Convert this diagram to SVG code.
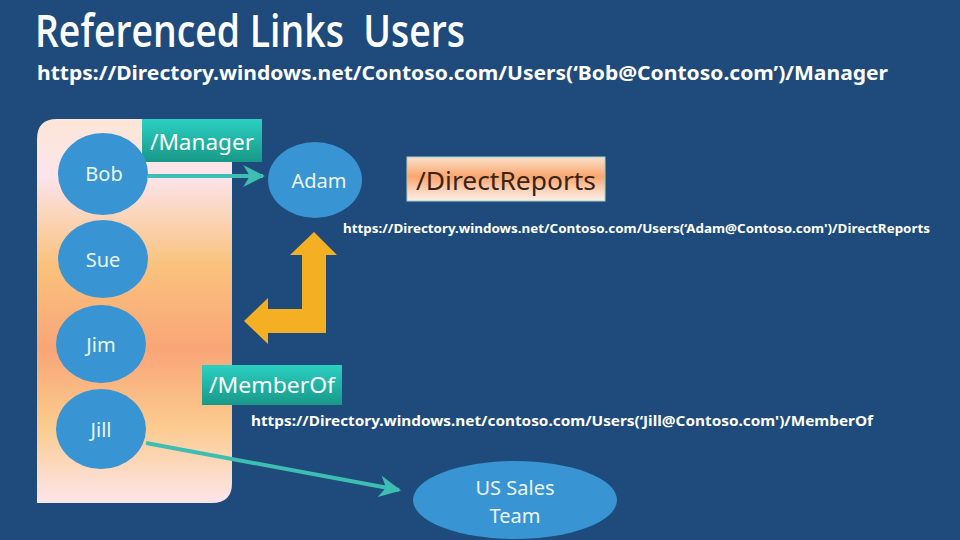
<svg xmlns="http://www.w3.org/2000/svg" width="960" height="540" viewBox="0 0 960 540">
<defs>
<linearGradient id="panelGrad" x1="0" y1="0" x2="0" y2="1">
<stop offset="0" stop-color="#FDE6D6"/>
<stop offset="0.15" stop-color="#FCE4EC"/>
<stop offset="0.38" stop-color="#FAC27C"/>
<stop offset="0.6" stop-color="#F9A577"/>
<stop offset="0.8" stop-color="#FBCB8E"/>
<stop offset="1" stop-color="#FDE5EA"/>
</linearGradient>
<linearGradient id="tealGrad" x1="0" y1="0" x2="0" y2="1">
<stop offset="0" stop-color="#2BD0C2"/>
<stop offset="1" stop-color="#189888"/>
</linearGradient>
<linearGradient id="peachGrad" x1="0" y1="0" x2="0" y2="1">
<stop offset="0" stop-color="#FCE0CC"/>
<stop offset="0.45" stop-color="#F9A66C"/>
<stop offset="0.8" stop-color="#FCD9C4"/>
<stop offset="1" stop-color="#FDEDE6"/>
</linearGradient>
<marker id="arrow" viewBox="0 0 10 10" refX="9" refY="5" markerWidth="5.5" markerHeight="5.5" orient="auto" markerUnits="strokeWidth">
<path d="M0,0 L10,5 L0,10 L3,5 Z" fill="#3CBEB2"/>
</marker>
</defs>
<style>
.node{fill:#3894D2;}
.nlabel{font-family:"Noto Sans","Open Sans",sans-serif;font-size:20px;fill:#EAF6F8;text-anchor:middle;}
.url{font-family:"Noto Sans","Open Sans",sans-serif;font-weight:bold;fill:#FFFFFF;}
.tag{font-family:"Noto Sans","Open Sans",sans-serif;fill:#FFFFFF;}
.conn{stroke:#3CBEB2;stroke-width:4;fill:none;}
</style>
<rect width="960" height="540" fill="#1E4B7B"/>
<text x="35" y="47" font-family="'Open Sans','Noto Sans',sans-serif" font-weight="600" font-size="45" fill="#FFFFFF" textLength="430" lengthAdjust="spacingAndGlyphs" xml:space="preserve">Referenced Links  Users</text>
<text class="url" x="37" y="80" font-size="19" textLength="851" lengthAdjust="spacingAndGlyphs">https://Directory.windows.net/Contoso.com/Users(‘Bob@Contoso.com’)/Manager</text>
<g id="panel">
<path d="M57,119 L232,119 L232,483 Q232,503 212,503 L37,503 L37,139 Q37,119 57,119 Z" fill="url(#panelGrad)"/>
</g>
<g id="connectors">
<line class="conn" x1="148" y1="176" x2="263" y2="176" marker-end="url(#arrow)"/>
<line class="conn" x1="146" y1="443" x2="399" y2="490" marker-end="url(#arrow)"/>
<polygon id="orange-arrow" points="314,232 337,255 326,255 326,333 268,333 268,344 244,321 268,298 268,309 302,309 302,255 290,255" fill="#F5AF23"/>
</g>
<g id="manager-tag">
<rect x="142" y="119" width="120" height="43" fill="url(#tealGrad)"/>
<text class="tag" x="150" y="150" font-size="22" textLength="104" lengthAdjust="spacingAndGlyphs">/Manager</text>
</g>
<g id="bob"><ellipse class="node" cx="103" cy="174" rx="45" ry="41"/><text class="nlabel" x="104" y="181">Bob</text></g>
<g id="sue"><ellipse class="node" cx="103" cy="259" rx="45" ry="39"/><text class="nlabel" x="103" y="267">Sue</text></g>
<g id="jim"><ellipse class="node" cx="101" cy="344" rx="45" ry="39"/><text class="nlabel" x="101" y="352">Jim</text></g>
<g id="jill"><ellipse class="node" cx="101" cy="429" rx="45" ry="40"/><text class="nlabel" x="101" y="437">Jill</text></g>
<g id="adam"><ellipse class="node" cx="315" cy="180" rx="47" ry="38"/><text class="nlabel" x="319" y="188">Adam</text></g>
<g id="directreports-tag">
<rect x="407" y="157" width="198" height="44" fill="url(#peachGrad)" stroke="#9ED3CC" stroke-width="1"/>
<text x="416" y="190" font-family="'Noto Sans','Open Sans',sans-serif" font-size="25" fill="#3A2416" textLength="180" lengthAdjust="spacingAndGlyphs">/DirectReports</text>
</g>
<text class="url" x="343" y="233" font-size="13" textLength="587" lengthAdjust="spacingAndGlyphs">https://Directory.windows.net/Contoso.com/Users(‘Adam@Contoso.com')/DirectReports</text>
<g id="memberof-tag">
<rect x="202" y="365" width="140" height="40" fill="url(#tealGrad)"/>
<text class="tag" x="209" y="393" font-size="22" textLength="126" lengthAdjust="spacingAndGlyphs">/MemberOf</text>
</g>
<text class="url" x="251" y="426" font-size="14.5" textLength="622" lengthAdjust="spacingAndGlyphs">https://Directory.windows.net/contoso.com/Users(‘Jill@Contoso.com')/MemberOf</text>
<g id="us-sales-team">
<ellipse class="node" cx="515" cy="500" rx="102" ry="39"/>
<text class="nlabel" x="515" y="495">US Sales</text>
<text class="nlabel" x="515" y="523">Team</text>
</g>
</svg>
